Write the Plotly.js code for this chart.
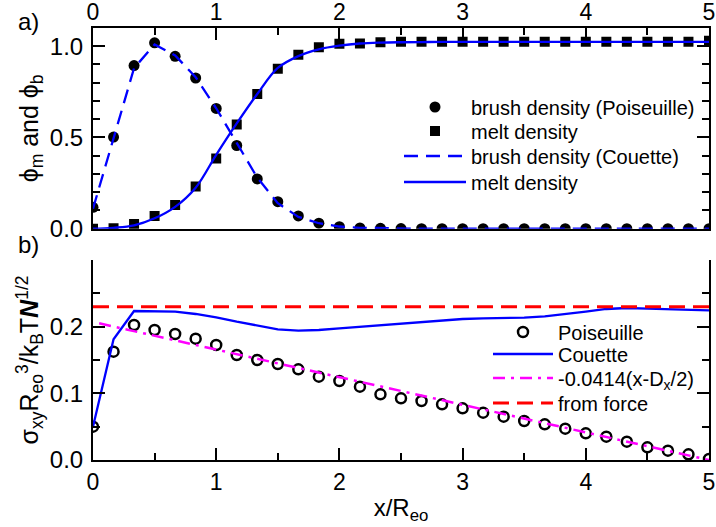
<!DOCTYPE html>
<html>
<head>
<meta charset="utf-8">
<script src="https://cdn.plot.ly/plotly-3.0.1.min.js"></script>
<style>html,body{margin:0;padding:0;background:#fff;}#plot{width:716px;height:527px;}</style>
</head>
<body>
<div id="plot"></div>
<script>
// x grid (x/R_eo), 31 samples, step 1/6
const xGrid = [0,0.1667,0.3333,0.5,0.6667,0.8333,1.0,1.1667,1.3333,1.5,1.6667,1.8333,2.0,2.1667,2.3333,2.5,2.6667,2.8333,3.0,3.1667,3.3333,3.5,3.6667,3.8333,4.0,4.1667,4.3333,4.5,4.6667,4.8333,5.0];

// panel a)
const brushPois = [0.117,0.502,0.894,1.019,0.945,0.826,0.659,0.456,0.273,0.148,0.070,0.030,0.011,0.004,0.002,0.001,0,0,0,0,0,0,0,0,0,0,0,0,0,0,0];
const meltPois  = [0.0,0.002,0.026,0.070,0.130,0.231,0.385,0.571,0.738,0.876,0.954,0.995,1.013,1.015,1.022,1.025,1.025,1.025,1.025,1.025,1.025,1.025,1.025,1.025,1.025,1.025,1.025,1.025,1.025,1.025,1.03];
const brushCou  = [0.11,0.50,0.88,1.01,0.95,0.83,0.66,0.47,0.28,0.14,0.065,0.03,0.012,0.005,0.002,0.001,0,0,0,0,0,0,0,0,0,0,0,0,0,0,0];
const meltCou   = [0.0,0.005,0.018,0.057,0.12,0.225,0.405,0.577,0.738,0.881,0.946,0.983,1.003,1.015,1.02,1.022,1.023,1.024,1.024,1.024,1.024,1.024,1.024,1.024,1.024,1.024,1.024,1.024,1.024,1.024,1.024];

// panel b)
const stressPois = [0.050,0.1625,0.2025,0.195,0.189,0.182,0.1725,0.1575,0.150,0.144,0.136,0.125,0.1185,0.110,0.0985,0.0925,0.0885,0.0835,0.0775,0.071,0.065,0.0585,0.0535,0.047,0.040,0.035,0.0275,0.019,0.014,0.0085,0.0015];
const stressCou  = [0.050,0.181,0.2235,0.2235,0.2225,0.219,0.214,0.2075,0.2015,0.196,0.194,0.195,0.1975,0.200,0.2025,0.205,0.207,0.2095,0.2115,0.2125,0.213,0.2135,0.2155,0.2185,0.2225,0.2265,0.228,0.227,0.2265,0.226,0.2245];
const fitX = [0.05, 5.0];
const fitY = [0.205, 0.0];
const forceX = [0, 5];
const forceY = [0.23, 0.23];

const topTicks = [0, 0.5, 1.0];
const botTicks = [0, 0.1, 0.2];

const FONT = 'Liberation Sans, Arial, sans-serif';

const traces = [
  {x: xGrid, y: brushPois, xaxis:'x', yaxis:'y', mode:'markers', name:'brush density (Poiseuille)',
   marker:{symbol:'circle', size:11, color:'#000'}, legend:'legend'},
  {x: xGrid, y: meltPois, xaxis:'x', yaxis:'y', mode:'markers', name:'melt density',
   marker:{symbol:'square', size:10, color:'#000'}, legend:'legend2'},
  {x: xGrid, y: brushCou, xaxis:'x', yaxis:'y', mode:'lines', name:'brush density (Couette)',
   line:{color:'#0000ff', width:2.3, dash:'14px,8px'}, legend:'legend3'},
  {x: xGrid, y: meltCou, xaxis:'x', yaxis:'y', mode:'lines', name:'melt density',
   line:{color:'#0000ff', width:2.3, shape:'spline'}, legend:'legend4'},

  {x: xGrid, y: stressPois, xaxis:'x2', yaxis:'y2', mode:'markers', name:'Poiseuille',
   marker:{symbol:'circle-open', size:10, color:'#000', line:{width:2.5, color:'#000'}}, legend:'legend5'},
  {x: xGrid, y: stressCou, xaxis:'x2', yaxis:'y2', mode:'lines', name:'Couette',
   line:{color:'#0000ff', width:2.3}, legend:'legend6'},
  {x: fitX, y: fitY, xaxis:'x2', yaxis:'y2', mode:'lines', name:'-0.0414(x-D<sub>x</sub>/2)',
   line:{color:'#ff00ff', width:2.5, dash:'12px,6px,3px,6px'}, legend:'legend7'},
  {x: forceX, y: forceY, xaxis:'x2', yaxis:'y2', mode:'lines', name:'from force',
   line:{color:'#ff0000', width:3, dash:'16px,8px'}, legend:'legend8'}
];

const axCommon = {
  showgrid:false, zeroline:false, showline:true, linecolor:'#000', linewidth:2,
  ticks:'inside', ticklen:12, tickwidth:2, tickcolor:'#000',
  tickfont:{family:FONT, size:24, color:'#000'}
};
const minorX = {dtick:0.5, ticklen:7, tickwidth:2, ticks:'inside', tickcolor:'#000'};

// legend helper: one entry per legend, placed at a pixel position inside the 93..709 x 28..460 plot area
function leg(px, py, w) {
  return {x:(px-93)/616, y:(460-py)/432, xanchor:'left', yanchor:'middle',
    bgcolor:'rgba(0,0,0,0)', borderwidth:0, itemwidth:w,
    font:{family:FONT, size:20, color:'#000'}};
}

const layout = {
  width:716, height:527,
  margin:{l:93, r:7, t:28, b:67, autoexpand:false},
  paper_bgcolor:'#fff', plot_bgcolor:'#fff',
  font:{family:FONT, size:20, color:'#000'},
  showlegend:true,
  xaxis: Object.assign({}, axCommon, {
    anchor:'y', side:'top', range:[0,5], dtick:1, mirror:true, minor:minorX,
    tickfont:{family:FONT, size:23, color:'#000'}, ticklabelstandoff:-3
  }),
  yaxis: Object.assign({}, axCommon, {
    anchor:'x', domain:[0.5354,1], range:[0,1.1], tickvals:topTicks, tickformat:'.1f', mirror:'ticks',
    ticklabelstandoff:3,
    minor:{dtick:0.1, ticklen:7, tickwidth:2, ticks:'inside', tickcolor:'#000'},
    title:{text:'ϕ<sub>m</sub>\u00a0and ϕ<sub>b</sub>', font:{family:FONT, size:25, color:'#000'}, standoff:4}
  }),
  xaxis2: Object.assign({}, axCommon, {
    anchor:'y2', range:[0,5], dtick:1, minor:minorX,
    tickfont:{family:FONT, size:23, color:'#000'},
    title:{text:'x/R<sub>eo</sub>', font:{family:FONT, size:24, color:'#000'}, standoff:6}
  }),
  yaxis2: Object.assign({}, axCommon, {
    anchor:'x2', domain:[0,0.463], range:[0,0.3], tickvals:botTicks, tickformat:'.1f', mirror:'ticks',
    ticklabelstandoff:3,
    minor:{dtick:0.05, ticklen:7, tickwidth:2, ticks:'inside', tickcolor:'#000'},
    title:{text:'σ<sub>xy</sub>R<sub>eo</sub><sup>3</sup>/k<sub>B</sub>T<b><i>N</i></b><sup>1/2</sup>', font:{family:FONT, size:25, color:'#000'}, standoff:4}
  }),
  legend:  leg(399, 107, 62),
  legend2: leg(399, 131, 62),
  legend3: leg(399, 156, 62),
  legend4: leg(399, 182, 62),
  legend5: leg(488, 332, 60),
  legend6: leg(488, 354, 60),
  legend7: leg(488, 378, 60),
  legend8: leg(488, 403, 60),
  annotations:[
    {text:'a)', xref:'paper', yref:'paper', x:-0.104, y:1.014, xanchor:'center', yanchor:'middle', showarrow:false, font:{family:FONT, size:24, color:'#000'}},
    {text:'b)', xref:'paper', yref:'paper', x:-0.104, y:0.5, xanchor:'center', yanchor:'middle', showarrow:false, font:{family:FONT, size:24, color:'#000'}}
  ]
};

Plotly.newPlot('plot', traces, layout, {displayModeBar:false, staticPlot:true});
</script>
</body>
</html>
